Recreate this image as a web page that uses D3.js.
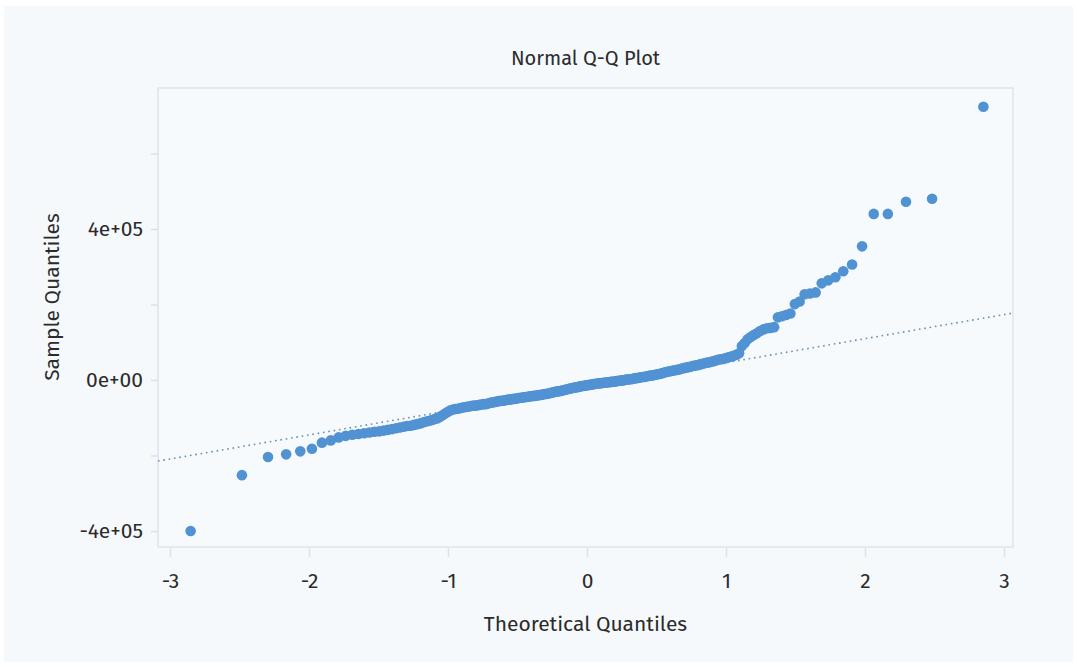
<!DOCTYPE html>
<html>
<head>
<meta charset="utf-8">
<script src="https://cdn.jsdelivr.net/npm/d3@7"></script>
<style>
  body { margin: 0; background: #ffffff; }
  svg { display: block; }
  svg text { font-family: "Fira Sans", "Lato", "Noto Sans", sans-serif; }
</style>
</head>
<body>
<script>
// sorted sample values (thousands)
var sampleK = [
  -400, -252, -204, -197, -189, -182, -166, -160, -152, -148,
  -145, -143, -141, -139, -137, -136, -134, -132, -130, -128,
  -126, -124, -122, -121, -119, -117, -115, -112, -110, -108,
  -106, -103, -101, -97, -93, -88, -84, -80, -78, -77,
  -76, -75, -73, -72, -71, -70, -69, -68, -68, -67,
  -66, -65, -64, -64, -63, -61, -60, -59, -58, -57,
  -56, -55, -55, -54, -53, -52, -52, -51, -50, -50,
  -49, -48, -47, -47, -46, -45, -45, -44, -43, -43,
  -42, -42, -41, -40, -40, -39, -38, -37, -37, -36,
  -35, -34, -33, -32, -31, -30, -30, -29, -28, -27,
  -26, -25, -24, -23, -22, -21, -20, -20, -19, -18,
  -17, -16, -16, -15, -14, -14, -13, -12, -12, -11,
  -10, -10, -9, -9, -8, -8, -7, -7, -6, -6,
  -5, -5, -4, -4, -3, -2, -2, -1, -1, 0,
  1, 1, 2, 2, 3, 4, 5, 5, 6, 7,
  8, 8, 9, 10, 11, 12, 12, 13, 14, 15,
  16, 17, 18, 20, 21, 22, 23, 24, 25, 26,
  27, 28, 29, 31, 32, 33, 34, 35, 37, 38,
  39, 40, 42, 43, 45, 46, 47, 49, 50, 52,
  54, 55, 56, 58, 60, 62, 64, 67, 71, 90,
  98, 108, 114, 119, 124, 130, 134, 137, 138, 140,
  166, 169, 172, 176, 201, 208, 227, 229, 232, 256,
  264, 272, 288, 306, 354, 440, 440, 472, 480, 724
];

// reference line (through the quartiles)
var refSlope = 63750;
var refIntercept = -18000;

var xTicks = [-3, -2, -1, 0, 1, 2, 3];
var yTicks = [-4e5, -2e5, 0, 2e5, 4e5, 6e5];
var yLabelTicks = [-4e5, 0, 4e5];

// inverse normal cdf (Acklam)
function qnorm(p) {
    var a = [-3.969683028665376e+01, 2.209460984245205e+02, -2.759285104469687e+02, 1.383577518672690e+02, -3.066479806614716e+01, 2.506628277459239e+00];
    var b = [-5.447609879822406e+01, 1.615858368580409e+02, -1.556989798598866e+02, 6.680131188771972e+01, -1.328068155288572e+01];
    var c = [-7.784894002430293e-03, -3.223964580411365e-01, -2.400758277161838e+00, -2.549732539343734e+00, 4.374664141464968e+00, 2.938163982698783e+00];
    var d = [7.784695709041462e-03, 3.224671290700398e-01, 2.445134137142996e+00, 3.754408661907416e+00];
    var pl = 0.02425, q, r;
    if (p < pl) {
        q = Math.sqrt(-2 * Math.log(p));
        return (((((c[0]*q+c[1])*q+c[2])*q+c[3])*q+c[4])*q+c[5]) / ((((d[0]*q+d[1])*q+d[2])*q+d[3])*q+1);
    }
    if (p > 1 - pl) {
        q = Math.sqrt(-2 * Math.log(1 - p));
        return -(((((c[0]*q+c[1])*q+c[2])*q+c[3])*q+c[4])*q+c[5]) / ((((d[0]*q+d[1])*q+d[2])*q+d[3])*q+1);
    }
    q = p - 0.5; r = q * q;
    return (((((a[0]*r+a[1])*r+a[2])*r+a[3])*r+a[4])*r+a[5])*q / (((((b[0]*r+b[1])*r+b[2])*r+b[3])*r+b[4])*r+1);
}

var n = sampleK.length;
var points = sampleK.map(function(v, i) {
    return { t: qnorm((i + 0.5) / n), s: v * 1000 };
});

var W = 1077, H = 668;
var panel = { left: 158, right: 1013, top: 88, bottom: 547 };

var x = d3.scaleLinear().domain([-3, 3]).range([170, 1004]);
var y = d3.scaleLinear().domain([-4e5, 4e5]).range([531, 229]);

var svg = d3.select("body").append("svg")
    .attr("width", W)
    .attr("height", H);

// page background
svg.append("rect")
    .attr("x", 4).attr("y", 6)
    .attr("width", W - 8).attr("height", H - 12)
    .attr("fill", "#f5f9fc");

// plot panel
svg.append("rect")
    .attr("x", panel.left).attr("y", panel.top)
    .attr("width", panel.right - panel.left)
    .attr("height", panel.bottom - panel.top)
    .attr("fill", "#f6fafd")
    .attr("stroke", "#e0e4ea")
    .attr("stroke-width", 1.5);

function expFmt(v) {
    var s = d3.format(".0e")(v).replace("\u2212", "-");
    return s.replace(/e([+-])(\d)$/, "e$10$2");
}

// y axis
var yAxis = svg.append("g")
    .attr("transform", "translate(" + panel.left + ",0)")
    .call(d3.axisLeft(y).tickValues(yTicks).tickSize(7).tickPadding(8)
        .tickFormat(function(d) { return yLabelTicks.indexOf(d) >= 0 ? expFmt(d) : ""; }));
yAxis.attr("font-family", null).attr("font-size", null);
yAxis.select(".domain").remove();
yAxis.selectAll(".tick line").attr("stroke", "#dde2e8").attr("stroke-width", 1.5);
yAxis.selectAll(".tick text")
    .attr("fill", "#2b2b2b")
    .style("font-size", "21px");

// x axis
var xAxis = svg.append("g")
    .attr("transform", "translate(0," + (panel.bottom + 1) + ")")
    .call(d3.axisBottom(x).tickValues(xTicks).tickSize(9).tickPadding(16)
        .tickFormat(function(d) { return String(d); }));
xAxis.attr("font-family", null).attr("font-size", null);
xAxis.select(".domain").remove();
xAxis.selectAll(".tick line").attr("stroke", "#dde2e8").attr("stroke-width", 1.5);
xAxis.selectAll(".tick text")
    .attr("fill", "#2b2b2b")
    .style("font-size", "21px");

// clip for panel content
svg.append("clipPath").attr("id", "clip")
    .append("rect")
    .attr("x", panel.left).attr("y", panel.top)
    .attr("width", panel.right - panel.left)
    .attr("height", panel.bottom - panel.top);

var plot = svg.append("g").attr("clip-path", "url(#clip)");

// reference line
var tEnds = [x.invert(panel.left), x.invert(panel.right)];
plot.append("line")
    .attr("x1", x(tEnds[0]))
    .attr("y1", y(refIntercept + refSlope * tEnds[0]))
    .attr("x2", x(tEnds[1]))
    .attr("y2", y(refIntercept + refSlope * tEnds[1]))
    .attr("stroke", "#6a8eae")
    .attr("stroke-width", 1.6)
    .attr("stroke-dasharray", "1.6,3.8");

// points
plot.selectAll("circle")
    .data(points)
    .enter()
    .append("circle")
    .attr("cx", function(d) { return x(d.t); })
    .attr("cy", function(d) { return y(d.s); })
    .attr("r", 5.3)
    .attr("fill", "#5192d3");

// titles
svg.append("text")
    .attr("x", (panel.left + panel.right) / 2)
    .attr("y", 65)
    .attr("text-anchor", "middle")
    .attr("fill", "#2b2b2b")
    .style("font-size", "20px")
    .text("Normal Q-Q Plot");

svg.append("text")
    .attr("x", (panel.left + panel.right) / 2)
    .attr("y", 631)
    .attr("text-anchor", "middle")
    .attr("fill", "#2b2b2b")
    .style("font-size", "21px")
    .text("Theoretical Quantiles");

svg.append("text")
    .attr("transform", "translate(59,297) rotate(-90)")
    .attr("text-anchor", "middle")
    .attr("fill", "#2b2b2b")
    .style("font-size", "21px")
    .text("Sample Quantiles");
</script>
</body>
</html>
